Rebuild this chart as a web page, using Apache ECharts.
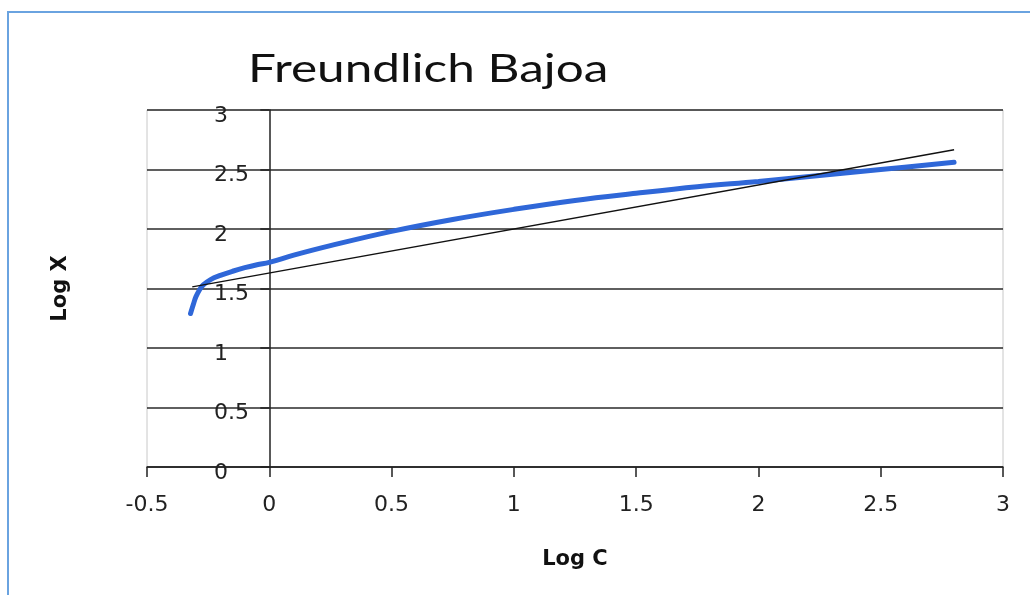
<!DOCTYPE html>
<html>
<head>
<meta charset="utf-8">
<script src="https://cdn.jsdelivr.net/npm/echarts@6/dist/echarts.min.js"></script>
<style>
  html, body { margin: 0; padding: 0; background: #fff; }
  #chart { width: 1030px; height: 595px; }
</style>
</head>
<body>
<div id="chart"></div>
<script>
// Freundlich isotherm: Log X against Log C
const logC = [-0.322, -0.31, -0.30, -0.285, -0.27, -0.24, -0.20, -0.15, -0.10, -0.05, 0, 0.10, 0.25, 0.50, 0.75, 1.00, 1.25, 1.50, 1.75, 2.00, 2.25, 2.50, 2.80];
const logX = [1.29, 1.37, 1.43, 1.49, 1.53, 1.575, 1.61, 1.645, 1.675, 1.70, 1.72, 1.78, 1.86, 1.98, 2.08, 2.165, 2.24, 2.30, 2.355, 2.40, 2.45, 2.50, 2.56];

// Linear fit drawn between its end points
const trendC = [-0.315, 2.80];
const trendX = [1.513, 2.666];

const xTicks = { min: -0.5, max: 3, step: 0.5 };
const yTicks = { min: 0, max: 3, step: 0.5 };

const titleText = 'Freundlich Bajoa';
const xName = 'Log C';
const yName = 'Log X';

const labelFont = '"DejaVu Sans", sans-serif';

const chart = echarts.init(document.getElementById('chart'), null, { renderer: 'canvas' });

chart.setOption({
  backgroundColor: '#ffffff',
  animation: false,
  graphic: [
    {
      type: 'rect',
      silent: true,
      shape: { x: 8, y: 12, width: 1040, height: 600 },
      style: { fill: 'none', stroke: '#6aa3e0', lineWidth: 2 }
    },
    {
      // chart title, widened to the page's title proportions
      type: 'text',
      silent: true,
      x: 248,
      y: 69,
      scaleX: 1.27,
      style: {
        text: titleText,
        font: 'normal 39px Lato, "Open Sans", sans-serif',
        fill: '#111',
        verticalAlign: 'middle',
        align: 'left'
      }
    }
  ],
  grid: {
    left: 147, right: 27, top: 110, bottom: 128,
    outerBoundsMode: 'none',
    containLabel: false,
    show: true, borderColor: '#c8c8c8', borderWidth: 1, backgroundColor: 'transparent'
  },
  xAxis: {
    type: 'value',
    min: xTicks.min, max: xTicks.max, interval: xTicks.step,
    name: xName,
    nameLocation: 'middle',
    nameGap: 82,
    nameMoveOverlap: false,
    nameTextStyle: { fontFamily: labelFont, fontSize: 21, fontWeight: 'bold', color: '#111' },
    axisLine: { onZero: false, lineStyle: { color: '#222', width: 1.5 } },
    axisTick: { show: true, inside: false, length: 10, lineStyle: { color: '#222', width: 1.5 } },
    axisLabel: { fontFamily: labelFont, fontSize: 22, color: '#222', margin: 27 },
    splitLine: { show: false }
  },
  yAxis: {
    type: 'value',
    min: yTicks.min, max: yTicks.max, interval: yTicks.step,
    name: yName,
    nameLocation: 'middle',
    nameRotate: 90,
    nameGap: 76,
    nameMoveOverlap: false,
    nameTextStyle: { fontFamily: labelFont, fontSize: 21, fontWeight: 'bold', color: '#111' },
    axisLine: { onZero: true, lineStyle: { color: '#222', width: 1.5 } },
    axisTick: { show: true, inside: false, length: 9, lineStyle: { color: '#222', width: 1.5 } },
    axisLabel: {
      margin: -67,
      align: 'left',
      formatter: '{v|{value}}',
      rich: {
        v: { fontFamily: labelFont, fontSize: 22, color: '#222', padding: [12, 0, 0, 0] }
      }
    },
    splitLine: { show: true, lineStyle: { color: '#2a2a2a', width: 1.5 } }
  },
  series: [
    {
      name: yName,
      type: 'line',
      smooth: 0.4,
      showSymbol: false,
      data: logC.map((c, i) => [c, logX[i]]),
      lineStyle: { color: '#2f67d8', width: 5, cap: 'round' },
      z: 3
    },
    {
      name: 'Linear fit',
      type: 'line',
      showSymbol: false,
      data: trendC.map((c, i) => [c, trendX[i]]),
      lineStyle: { color: '#111', width: 1.3 },
      z: 4
    }
  ]
});
</script>
</body>
</html>
